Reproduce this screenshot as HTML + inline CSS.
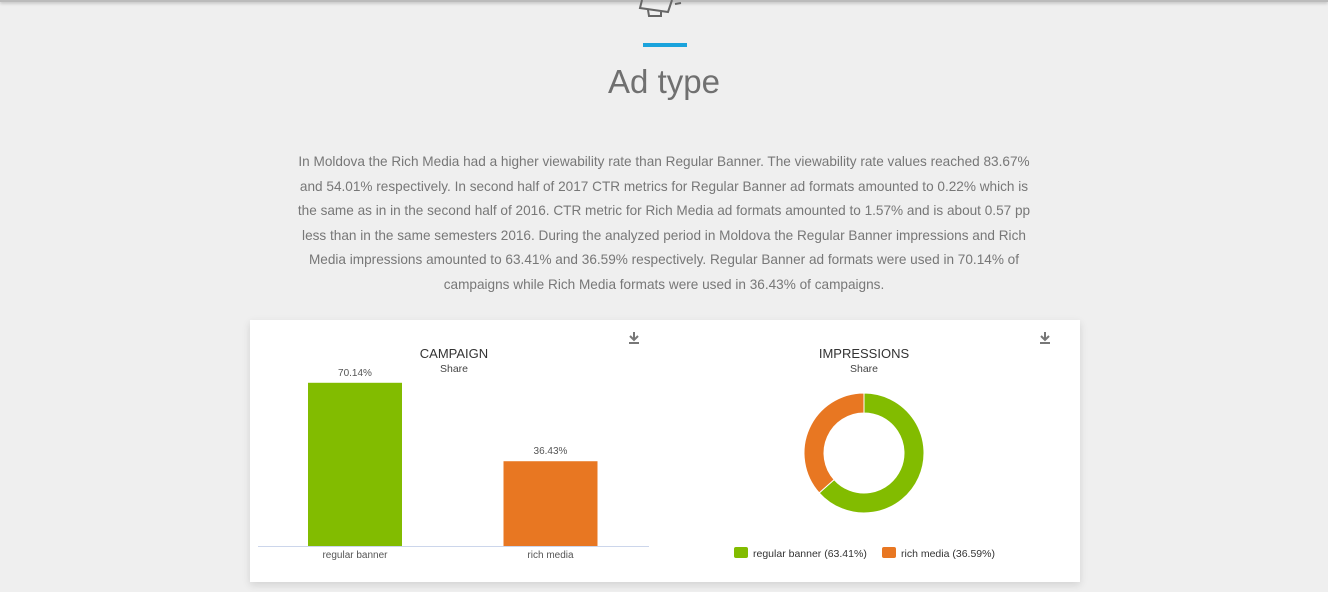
<!DOCTYPE html>
<html><head><meta charset="utf-8">
<style>
body{margin:0;width:1328px;height:592px;background:#efefef;font-family:"Liberation Sans",sans-serif;overflow:hidden;position:relative}
.topbar{position:absolute;left:0;top:0;width:1328px;height:2px;background:#bbb;box-shadow:0 1px 3px rgba(0,0,0,.3)}
.title{position:absolute;left:0;width:1328px;top:63px;text-align:center;font-size:33px;color:#707070}
.accent{position:absolute;left:643px;top:43px;width:44px;height:4px;background:#1aa3dc}
.para{position:absolute;left:289px;width:750px;top:150px;text-align:center;font-size:13.6px;line-height:24.6px;color:#777}
.card{position:absolute;left:250px;top:320px;width:830px;height:262px;background:#fff;box-shadow:0 3px 8px rgba(0,0,0,.12)}
</style></head><body>
<div class="topbar"></div>
<svg style="position:absolute;left:636px;top:0" width="60" height="20"><path d="M6 0 L4 8 L32 12 L36 0 M12 10 L13 16 L25 16 L25 12 M39 4 L45 3" fill="none" stroke="#666" stroke-width="2"/></svg>
<div class="accent"></div>
<div class="title">Ad type</div>
<div class="para">In Moldova the Rich Media had a higher viewability rate than Regular Banner. The viewability rate values reached 83.67% and 54.01% respectively. In second half of 2017 CTR metrics for Regular Banner ad formats amounted to 0.22% which is the same as in in the second half of 2016. CTR metric for Rich Media ad formats amounted to 1.57% and is about 0.57 pp less than in the same semesters 2016. During the analyzed period in Moldova the Regular Banner impressions and Rich Media impressions amounted to 63.41% and 36.59% respectively. Regular Banner ad formats were used in 70.14% of campaigns while Rich Media formats were used in 36.43% of campaigns.</div>
<div class="card"></div>
<svg id="c" style="position:absolute;left:0;top:0" width="1328" height="592" font-family="Liberation Sans, sans-serif">
<g><path d="M634 332v8M630 336l4 4 4-4M629 343h10" stroke="#777" stroke-width="2" fill="none"/></g>
<g><path d="M1045 332v8M1041 336l4 4 4-4M1040 343h10" stroke="#777" stroke-width="2" fill="none"/></g>
<text x="454" y="358" text-anchor="middle" font-size="13" fill="#333">CAMPAIGN</text>
<text x="454" y="372" text-anchor="middle" font-size="10.5" fill="#444">Share</text>
<text x="864" y="358" text-anchor="middle" font-size="13" fill="#333">IMPRESSIONS</text>
<text x="864" y="372" text-anchor="middle" font-size="10.5" fill="#444">Share</text>
<line x1="258" y1="546.5" x2="649" y2="546.5" stroke="#ccd6eb"/>
<g id="bars"></g><g id="donut"></g>
</svg>
<script>
const categories=["regular banner","rich media"];
const campaignValues=[70.14,36.43];
const impressionLabels=["regular banner","rich media"];
const impressionValues=[63.41,36.59];
const colors=["#82bc00","#e87722"];
const NS="http://www.w3.org/2000/svg";
function mk(t,a,p){const e=document.createElementNS(NS,t);for(const k in a)e.setAttribute(k,a[k]);p.appendChild(e);return e;}
const base=546,scale=2.327;
const y=v=>base-v*scale;
const xc=i=>355+i*195.5;
const bars=document.getElementById('bars');
categories.forEach((c,i)=>{
 const r=mk('rect',{x:xc(i)-47,y:y(campaignValues[i]),width:94,height:base-y(campaignValues[i]),fill:colors[i]},bars);
 
 
 const t=mk('text',{x:xc(i),y:y(campaignValues[i])-7,'text-anchor':'middle','font-size':'10',fill:'#555'},bars);
 t.textContent=campaignValues[i].toFixed(2)+'%';
 
 
 const l=mk('text',{x:xc(i),y:558,'text-anchor':'middle','font-size':'10',fill:'#555'},bars);
 l.textContent=c;
 
 
});
const d=document.getElementById('donut');
const cx=864,cy=453,R=60,r0=40;
const tot=impressionValues.reduce((a,b)=>a+b,0);
let a0=-Math.PI/2;
impressionValues.forEach((v,i)=>{
 const a1=a0+v/tot*2*Math.PI,lg=(a1-a0)>Math.PI?1:0;
 const p=(r,a)=>(cx+r*Math.cos(a))+' '+(cy+r*Math.sin(a));
 const s=mk('path',{d:`M${p(R,a0)} A${R} ${R} 0 ${lg} 1 ${p(R,a1)} L${p(r0,a1)} A${r0} ${r0} 0 ${lg} 0 ${p(r0,a0)}Z`,fill:colors[i],stroke:'#fff','stroke-width':'1'},d);
 
 
 a0=a1;
});
let lx=734;
impressionLabels.forEach((l,i)=>{
 const sw=mk('rect',{x:lx,y:547,width:14,height:11,rx:2,fill:colors[i]},d);
 
 
 const t=mk('text',{x:lx+19,y:557,'font-size':'10.5',fill:'#333'},d);
 t.textContent=l+' ('+impressionValues[i].toFixed(2)+'%)';
 
 
 lx+=148;
});
</script>
</body></html>
